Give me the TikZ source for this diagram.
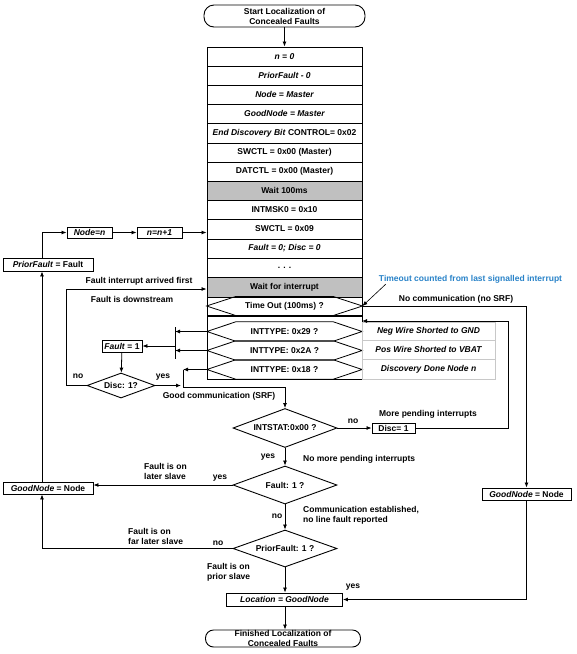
\documentclass[tikz,border=0pt]{standalone}
\usepackage{fontspec}
\setmainfont{Liberation Sans}
\usetikzlibrary{arrows.meta,shapes.geometric,calc}
\definecolor{waitgray}{RGB}{192,192,192}
\definecolor{tblue}{RGB}{40,130,200}
\definecolor{lgray}{RGB}{200,200,200}
\begin{document}
\begin{tikzpicture}[x=1pt,y=-1pt,
  every node/.style={font=\fontsize{8.5}{10}\selectfont\bfseries, inner sep=0pt},
  colbox/.style={draw, line width=0.9pt, minimum width=155pt, minimum height=19pt, fill=white},
  waitbox/.style={colbox, fill=waitgray},
  rowtxt/.style={minimum width=155pt, minimum height=19pt},
  sbox/.style={draw, line width=0.9pt, fill=white},
  graybox/.style={draw=lgray, line width=1pt, minimum width=133pt},
  dia/.style={diamond, draw, line width=0.9pt, fill=white, aspect=2.7},
  term/.style={draw, line width=0.9pt, fill=white, align=center},
  lbl/.style={align=left},
  conn/.style={line width=0.8pt, -{Latex[length=5pt,width=4pt]}},
  plain/.style={line width=0.8pt}]
\useasboundingbox (0,0) rectangle (577,654);

% start terminal
\node[term, minimum width=161pt, minimum height=22pt, rounded corners=10pt] (start) at (284.5,16) {Start Localization of\\Concealed Faults};

% main column
\node[colbox] (r1) at (284.5,56.5) {\itshape n = 0};
\node[colbox] (r2) at (284.5,75.5) {\itshape PriorFault - 0};
\node[colbox] (r3) at (284.5,94.5) {\itshape Node = Master};
\node[colbox] (r4) at (284.5,113.5) {\itshape GoodNode = Master};
\node[colbox, minimum height=20pt] (r5) at (284.5,133) {\textit{End Discovery Bit} CONTROL= 0x02};
\node[colbox] (r6) at (284.5,152.5) {SWCTL = 0x00 (Master)};
\node[colbox] (r7) at (284.5,171.5) {DATCTL = 0x00 (Master)};
\node[waitbox] (r8) at (284.5,190.5) {Wait 100ms};
\node[colbox] (r9) at (284.5,209.5) {INTMSK0 = 0x10};
\node[colbox, minimum height=20pt] (r10) at (284.5,229) {SWCTL = 0x09};
\node[colbox] (r11) at (284.5,248.5) {\itshape Fault = 0; Disc = 0};
\node[colbox] (r12) at (284.5,267.5) {. . .};
\node[waitbox, minimum height=20pt] (r13) at (284.5,287) {Wait for interrupt};
\node[colbox, minimum height=18pt] (r14) at (284.5,306) {Time Out (100ms) ?};
\node[colbox, minimum height=63pt] (grp) at (284.5,347.5) {};
\node[rowtxt] (t29) at (284.5,331.5) {INTTYPE: 0x29 ?};
\node[rowtxt] (t2a) at (284.5,350.5) {INTTYPE: 0x2A ?};
\node[rowtxt] (t18) at (284.5,369.5) {INTTYPE: 0x18 ?};
\foreach \n in {r14,t29,t2a,t18}
  \draw[line width=0.8pt] (\n.west) -- ([xshift=29pt]\n.north west) -- ([xshift=-29pt]\n.north east)
    -- (\n.east) -- ([xshift=-29pt]\n.south east) -- ([xshift=29pt]\n.south west) -- cycle;

% right gray labels
\node[graybox, minimum height=18pt] (g1) at (428.5,331) {\itshape Neg Wire Shorted to GND};
\node[graybox, minimum height=19pt] (g2) at (428.5,349.5) {\itshape Pos Wire Shorted to VBAT};
\node[graybox, minimum height=20pt] (g3) at (428.5,369) {\itshape Discovery Done Node n};

% timeout note
\node[text=tblue] (tnote) at (470.5,279) {Timeout counted from last signalled interrupt};
\draw[line width=0.6pt, -{Latex[length=5pt,width=4pt]}] ([xshift=7pt,yshift=-1pt]tnote.south west) -- (r14.east);

% left side boxes
\node[sbox, minimum width=45pt, minimum height=11pt] (nn) at (89.5,232.5) {\itshape Node=n};
\node[sbox, minimum width=45pt, minimum height=11pt] (nn1) at (159.5,232.5) {\itshape n=n+1};
\node[sbox, minimum width=90pt, minimum height=13pt] (pf) at (48,264.5) {\textit{PriorFault} = Fault};
\node[sbox, minimum width=90pt, minimum height=12pt] (gnl) at (48,488) {\textit{GoodNode} = Node};
\node[sbox, minimum width=40pt, minimum height=12pt] (f1) at (122,346) {\textit{Fault} = 1};
\node[dia, minimum width=68pt, minimum height=25pt] (disc) at (121,385.5) {Disc: 1?};

% decisions
\node[dia, minimum width=104pt, minimum height=39pt] (intstat) at (285,428) {INTSTAT:0x00 ?};
\node[dia, minimum width=104pt, minimum height=38pt] (fault) at (285,485) {Fault: 1 ?};
\node[dia, minimum width=104pt, minimum height=37pt] (prior) at (285,548.5) {PriorFault: 1 ?};
\node[sbox, minimum width=43pt, minimum height=10pt] (disc1) at (393.5,428) {Disc= 1};
\node[sbox, minimum width=89pt, minimum height=12pt] (gnr) at (526.5,494) {\textit{GoodNode} = Node};
\node[sbox, minimum width=116pt, minimum height=13pt] (loc) at (284.5,599.5) {\itshape Location = GoodNode};
\node[term, minimum width=155pt, minimum height=17pt, rounded corners=8pt] (fin) at (283,638.5) {Finished Localization of\\Concealed Faults};

% coordinates
\coordinate (bt) at (175,327);
\coordinate (bb) at (175,359);
\coordinate (bm) at (175,346);
\coordinate (dy) at (181,385.5);
\coordinate (j1) at (183,369.5);
\coordinate (j2) at (183,387);
\coordinate (in1) at (362,321);
\coordinate (rc) at (508,321);

% connectors
\draw[conn] (start) -- (r1);
\draw[conn] (nn) -- (nn1);
\draw[conn] (nn1.east) -- (nn1.east -| r10.west);
\draw[conn] ([xshift=-6pt]pf.north) |- (nn.west);
\draw[conn] ([xshift=-6pt]gnl.north) -- ([xshift=-6pt]pf.south);
\draw[conn] (disc.west) -- ++(-20,0) |- ([yshift=-2pt]r13.west);
\draw[plain] (bt) -- (bb);
\draw[conn] (t29.west) -- (t29.west -| bt);
\draw[conn] (t2a.west) -- (t2a.west -| bt);
\draw[conn] (bm) -- (f1.east);
\draw[conn] (f1) -- (disc);
\draw[conn] (disc.east) -- (dy);
\draw[conn] (t18.west) -- (j1);
\draw[conn] (j1) -- (j2) -| (intstat.north);
\draw[conn] (intstat.east) -- (disc1.west);
\draw[conn] (disc1.east) -| (rc) -- (in1);
\draw[conn] (r14.east) -| (gnr.north);
\draw[conn] (gnr.south) |- (loc.east);
\draw[conn] (intstat.south) -- (fault.north);
\draw[conn] (fault.west) -- (fault.west -| gnl.east);
\draw[conn] (fault.south) -- (prior.north);
\draw[conn] (prior.west) -| ([xshift=-6pt]gnl.south);
\draw[conn] (prior.south) -- (prior.south |- loc.north);
\draw[conn] (prior.south |- loc.south) -- (prior.south |- fin.north);

% labels
\node (l1) at (139,281) {Fault interrupt arrived first};
\node (l2) at (132,299) {Fault is downstream};
\node (l3) at (78,376) {no};
\node (l4) at (163,377) {yes};
\node (l5) at (219,396) {Good communication (SRF)};
\node (l6) at (456,299) {No communication (no SRF)};
\node (l7) at (353,421) {no};
\node (l8) at (428,414) {More pending interrupts};
\node (l9) at (268,457) {yes};
\node[anchor=west] (l10) at (303,459) {No more pending interrupts};
\node (l11) at (220,478) {yes};
\node[lbl, anchor=west] (l12) at (144,471) {Fault is on\\later slave};
\node (l13) at (277,516) {no};
\node[lbl, anchor=west] (l14) at (303,515) {Communication established,\\no line fault reported};
\node (l15) at (218,543) {no};
\node[lbl, anchor=west] (l16) at (128,536) {Fault is on\\far later slave};
\node[lbl, anchor=west] (l17) at (207,572.5) {Fault is on\\prior slave};
\node (l18) at (353,587) {yes};
\end{tikzpicture}
\end{document}
